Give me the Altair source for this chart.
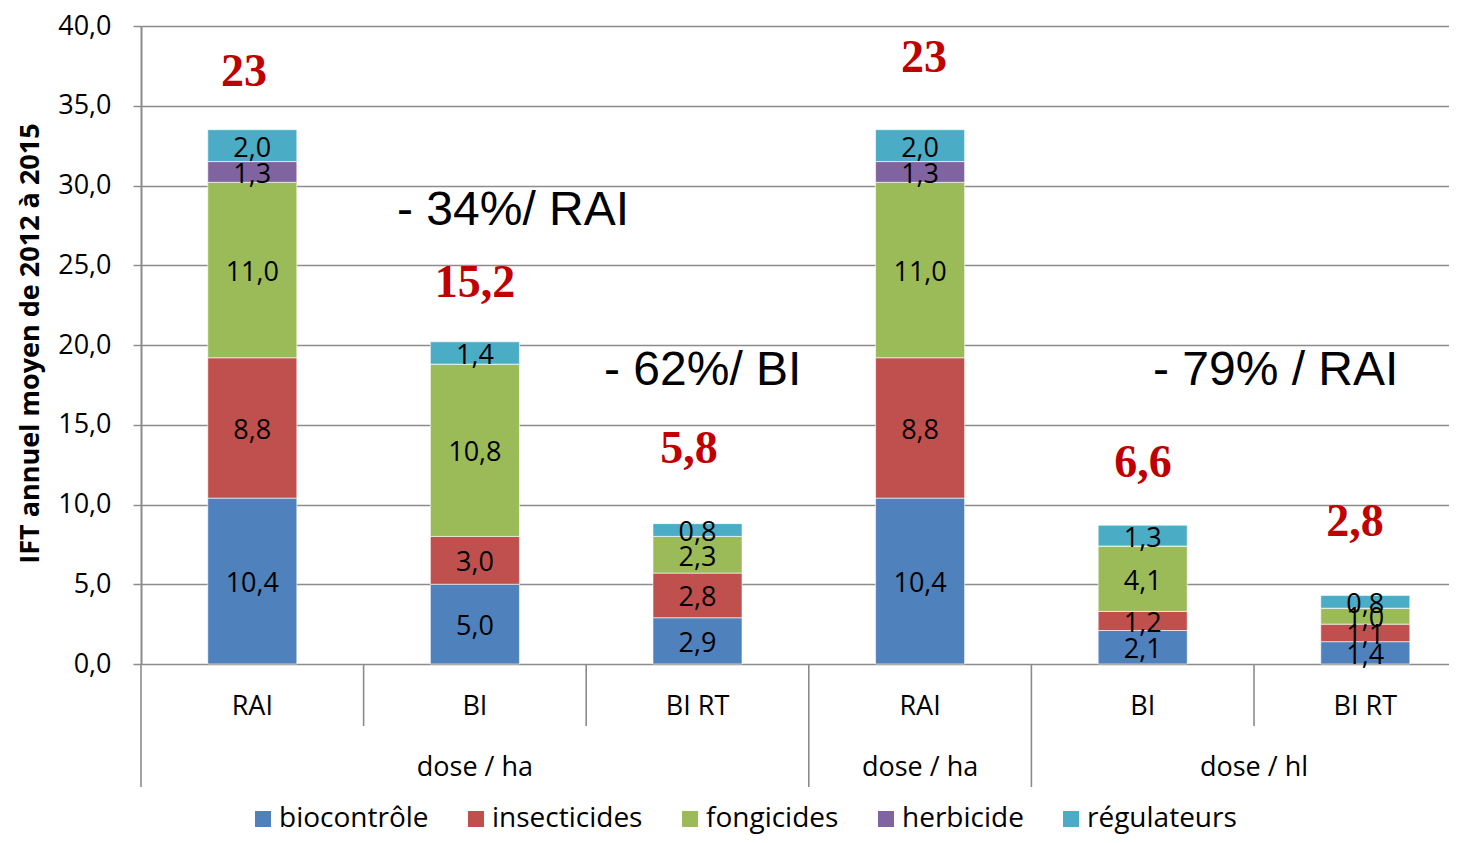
import altair as alt
import pandas as pd

# ---------------- data ----------------
categories = ["RAI", "BI", "BI RT", "RAI", "BI", "BI RT"]
group_labels = ["dose / ha", "dose / ha", "dose / hl"]
group_sizes = [3, 1, 2]

series = ["biocontrôle", "insecticides", "fongicides", "herbicide", "régulateurs"]
biocontrole = [10.4, 5.0, 2.9, 10.4, 2.1, 1.4]
insecticides = [8.8, 3.0, 2.8, 8.8, 1.2, 1.1]
fongicides = [11.0, 10.8, 2.3, 11.0, 4.1, 1.0]
herbicide = [1.3, 0.0, 0.0, 1.3, 0.0, 0.0]
regulateurs = [2.0, 1.4, 0.8, 2.0, 1.3, 0.8]
colors = ["#4F81BD", "#C0504D", "#9BBB59", "#8064A2", "#4BACC6"]

# red totals above bars (text, slot position, y value)
total_texts = ["23", "15,2", "5,8", "23", "6,6", "2,8"]
total_x = [0.463, 1.5, 2.462, 3.517, 4.501, 5.454]
total_y = [37.1, 23.9, 13.5, 38.0, 12.6, 8.9]

# black reduction notes
note_texts = ["- 34%/ RAI", "- 62%/ BI", "- 79% / RAI"]
note_x = [1.150, 2.080, 4.546]
note_y = [28.4, 18.4, 18.4]

# ---------------- tables ----------------
values = [biocontrole, insecticides, fongicides, herbicide, regulateurs]
rows = []
for i in range(len(categories)):
    base = 0.0
    for s, vals in zip(series, values):
        v = vals[i]
        rows.append({
            "slot": i, "series": s, "value": v,
            "y0": base, "y1": base + v, "ym": base + v / 2,
            "xa": i + 0.3, "xb": i + 0.7, "xc": i + 0.5,
            "label": f"{v:.1f}".replace(".", ","),
        })
        base += v
bars_df = pd.DataFrame(rows)
labels_df = bars_df[bars_df["value"] > 0]

cat_df = pd.DataFrame({"xc": [i + 0.5 for i in range(len(categories))], "cat": categories})

bounds = [0]
for g in group_sizes:
    bounds.append(bounds[-1] + g)
grp_df = pd.DataFrame({
    "xc": [(bounds[k] + bounds[k + 1]) / 2 for k in range(len(group_sizes))],
    "grp": group_labels,
})
long_sep = pd.DataFrame({"xs": bounds})
short_sep = pd.DataFrame({"xs": [i for i in range(len(categories) + 1) if i not in bounds]})

tot_df = pd.DataFrame({"t": total_texts, "x": total_x, "y": total_y})
note_df = pd.DataFrame({"t": note_texts, "x": note_x, "y": note_y})

# ---------------- scales ----------------
FONT = "Open Sans"
GRAY = "#8C8C8C"
PLOT_H = 638
xscale = alt.Scale(domain=[0, 5.876], nice=False, zero=False)
yscale = alt.Scale(domain=[0, 40], nice=False)

yaxis = alt.Axis(
    values=list(range(0, 41, 5)),
    labelExpr="replace(format(datum.value, '.1f'), '.', ',')",
    labelFont=FONT, labelFontSize=27, labelColor="black", labelPadding=22,
    tickSize=8, tickColor=GRAY, tickWidth=1.5,
    domainColor=GRAY, domainWidth=2,
    gridColor=GRAY, gridWidth=1.6,
    title="IFT annuel moyen  de 2012 à 2015",
    titleFont=FONT, titleFontSize=27, titleFontWeight="bold", titleColor="black",
    titleAngle=270, titleAlign="center", titleBaseline="middle",
    titleX=-111, titleY=317,
)

bars = alt.Chart(bars_df).mark_bar(stroke="white", strokeWidth=0.6).encode(
    x=alt.X("xa:Q", scale=xscale, axis=None),
    x2="xb:Q",
    y=alt.Y("y0:Q", scale=yscale, axis=yaxis),
    y2="y1:Q",
    color=alt.Color(
        "series:N",
        scale=alt.Scale(domain=series, range=colors),
        legend=alt.Legend(
            title=None, orient="none", direction="horizontal", columns=5,
            legendX=108, legendY=779,
            symbolType="square", symbolSize=256, symbolStrokeWidth=0,
            symbolOpacity=1,
            labelFont=FONT, labelFontSize=28, labelColor="black",
            labelOffset=2, columnPadding=33,
        ),
    ),
)

seg_labels = alt.Chart(labels_df).mark_text(
    font=FONT, fontSize=27, color="black", baseline="middle", align="center", dy=3
).encode(
    x=alt.X("xc:Q", scale=xscale),
    y=alt.Y("ym:Q", scale=yscale),
    text="label:N",
)

long_rules = alt.Chart(long_sep).mark_rule(color=GRAY, strokeWidth=1.6).encode(
    x=alt.X("xs:Q", scale=xscale), y=alt.value(PLOT_H), y2=alt.value(PLOT_H + 123)
)
short_rules = alt.Chart(short_sep).mark_rule(color=GRAY, strokeWidth=1.6).encode(
    x=alt.X("xs:Q", scale=xscale), y=alt.value(PLOT_H), y2=alt.value(PLOT_H + 62)
)

cat_text = alt.Chart(cat_df).mark_text(
    font=FONT, fontSize=27, color="black", baseline="middle", align="center"
).encode(x=alt.X("xc:Q", scale=xscale), y=alt.value(PLOT_H + 43), text="cat:N")

grp_text = alt.Chart(grp_df).mark_text(
    font=FONT, fontSize=27, color="black", baseline="middle", align="center"
).encode(x=alt.X("xc:Q", scale=xscale), y=alt.value(PLOT_H + 104), text="grp:N")

totals = alt.Chart(tot_df).mark_text(
    font="Liberation Serif", fontSize=46, fontWeight="bold", color="#C00000",
    baseline="middle", align="center",
).encode(x=alt.X("x:Q", scale=xscale), y=alt.Y("y:Q", scale=yscale), text="t:N")

notes = alt.Chart(note_df).mark_text(
    font="Liberation Sans", fontSize=48, color="black",
    baseline="middle", align="left",
).encode(x=alt.X("x:Q", scale=xscale), y=alt.Y("y:Q", scale=yscale), text="t:N")

chart = alt.layer(
    bars, seg_labels, long_rules, short_rules, cat_text, grp_text, totals, notes
).properties(
    width=1308, height=PLOT_H,
    padding={"left": 133, "top": 18, "right": 0, "bottom": 171},
    autosize=alt.AutoSizeParams(type="none"),
    background="white",
).configure_view(stroke=None)

chart.save("out.html", embed_options={"renderer": "svg", "actions": False})
